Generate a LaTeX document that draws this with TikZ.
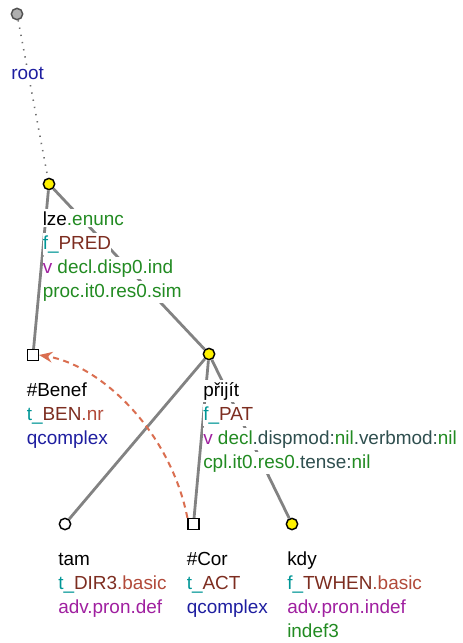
\documentclass[tikz,border=0pt]{standalone}
\usepackage{fontspec}
\setmainfont{Liberation Sans}
\usetikzlibrary{arrows.meta}
\definecolor{cgreen}{RGB}{34,139,34}
\definecolor{cteal}{RGB}{0,150,150}
\definecolor{cbrown}{RGB}{125,45,32}
\definecolor{cred}{RGB}{178,74,58}
\definecolor{cpurple}{RGB}{160,32,160}
\definecolor{cblue}{RGB}{30,30,160}
\definecolor{cslate}{RGB}{47,79,79}
\definecolor{cedge}{RGB}{130,130,130}
\definecolor{carrow}{RGB}{218,110,80}
\tikzset{
  tnode/.style={circle,draw=black,line width=1.1pt,minimum size=8.5pt,inner sep=0pt},
  ynode/.style={tnode,fill=yellow},
  wnode/.style={tnode,fill=white},
  rnode/.style={tnode,draw={rgb,255:red,80;green,80;blue,80},fill={rgb,255:red,175;green,175;blue,175}},
  snode/.style={rectangle,draw=black,line width=1.1pt,minimum size=8pt,inner sep=0pt,fill=white},
  edge/.style={draw=cedge,line width=2.1pt},
  lbl/.style={anchor=base west,fill=white,inner xsep=0pt,inner ysep=1.5pt,font=\fontsize{14.2pt}{17pt}\selectfont},
}
\begin{document}
\begin{tikzpicture}[x=0.75pt,y=-0.75pt]
\useasboundingbox (0,0) rectangle (462,643);
% tree nodes
\node[rnode] (root) at (17,14) {};
\node[ynode] (lze) at (49,184) {};
\node[snode] (benef) at (33,355) {};
\node[ynode] (prijit) at (209,354) {};
\node[wnode] (tam) at (65,524) {};
\node[snode] (cor) at (193.5,524) {};
\node[ynode] (kdy) at (292,524) {};
% edges
\draw[draw={rgb,255:red,110;green,110;blue,110},line width=1.2pt,dash pattern=on 1pt off 4.5pt] (root) -- (lze);
\draw[edge] (lze) -- (benef);
\draw[edge] (lze) -- (prijit);
\draw[edge] (prijit) -- (tam);
\draw[edge] (prijit) -- (cor);
\draw[edge] (prijit) -- (kdy);
% labels
\node[lbl,text=cblue] (rootA) at (11,79) {root};
\node[lbl] (lzeA) at (42.5,225) {lze{\color{cgreen}.enunc}};
\node[lbl] (lzeB) at (42.5,249) {{\color{cteal}f\_}{\color{cbrown}PRED}};
\node[lbl] (lzeC) at (42.5,273) {{\color{cpurple}v} {\color{cgreen}decl.disp0.ind}};
\node[lbl,text=cgreen] (lzeD) at (42.5,297) {proc.it0.res0.sim};
\node[lbl] (benefA) at (26.5,396) {\#Benef};
\node[lbl] (benefB) at (26.5,420) {{\color{cteal}t\_}{\color{cbrown}BEN}{\color{cred}.nr}};
\node[lbl,text=cblue] (benefC) at (26.5,444) {qcomplex};
\node[lbl] (prijitA) at (203,396) {přijít};
\node[lbl] (prijitB) at (203,420) {{\color{cteal}f\_}{\color{cbrown}PAT}};
\node[lbl] (prijitC) at (203,444) {{\color{cpurple}v} {\color{cgreen}decl}{\color{cslate}.dispmod:}{\color{cgreen}nil}{\color{cslate}.verbmod:}{\color{cgreen}nil}};
\node[lbl] (prijitD) at (203,468) {{\color{cgreen}cpl.it0.res0.}{\color{cslate}tense:}{\color{cgreen}nil}};
\node[lbl] (tamA) at (58,565) {tam};
\node[lbl] (tamB) at (58,589) {{\color{cteal}t\_}{\color{cbrown}DIR3}{\color{cred}.basic}};
\node[lbl,text=cpurple] (tamC) at (58,613) {adv.pron.def};
\node[lbl] (corA) at (186.5,565) {\#Cor};
\node[lbl] (corB) at (186.5,589) {{\color{cteal}t\_}{\color{cbrown}ACT}};
\node[lbl,text=cblue] (corC) at (186.5,613) {qcomplex};
\node[lbl] (kdyA) at (287,565) {kdy};
\node[lbl] (kdyB) at (287,589) {{\color{cteal}f\_}{\color{cbrown}TWHEN}{\color{cred}.basic}};
\node[lbl,text=cpurple] (kdyC) at (287,613) {adv.pron.indef};
\node[lbl,text=cgreen] (kdyD) at (287,637) {indef3};
% coreference arrow
\draw[draw=carrow,line width=1.5pt,dash pattern=on 4.5pt off 3.5pt,-{Stealth[length=10pt,width=8pt]}]
  (cor.north west) .. controls (170,430) and (100,365) .. (benef.east);
\end{tikzpicture}
\end{document}
